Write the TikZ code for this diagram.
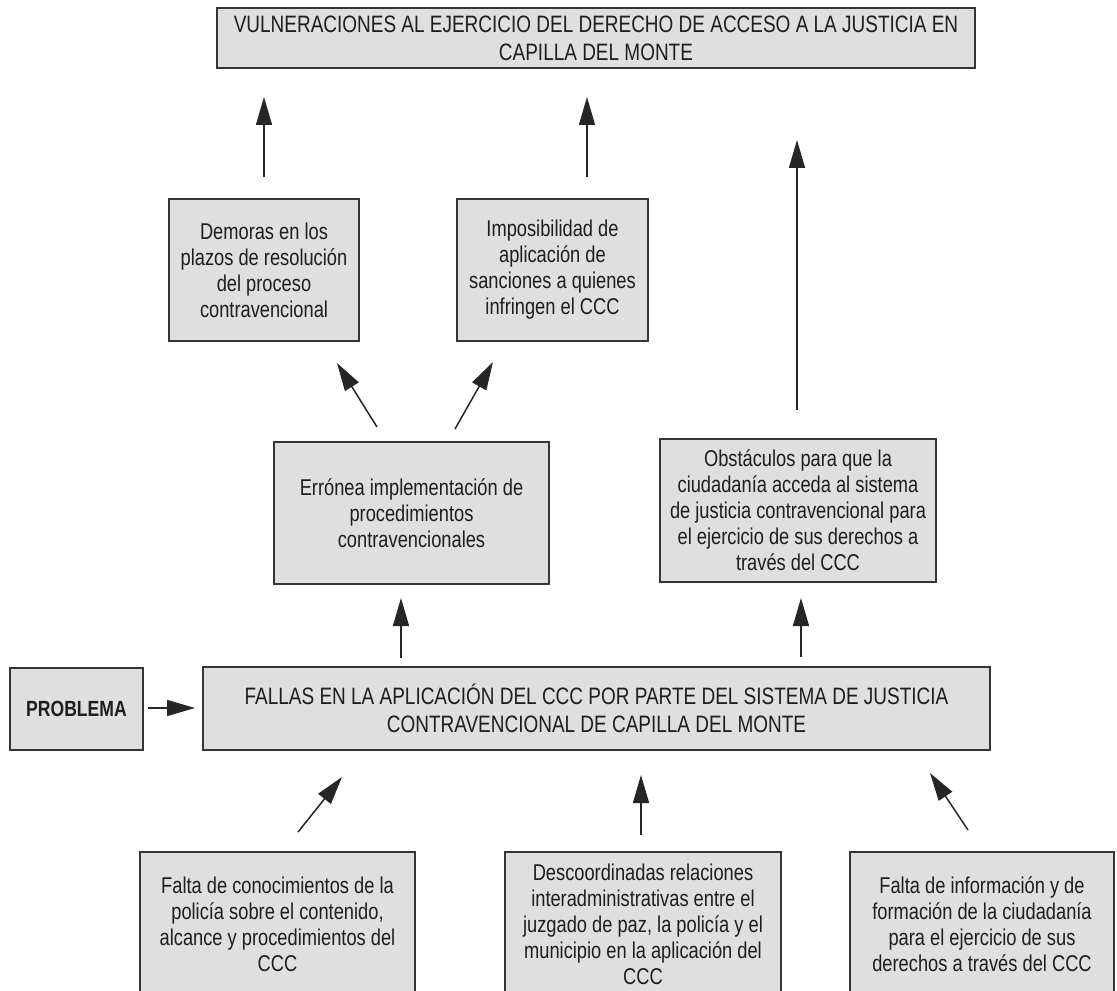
\documentclass[tikz,border=0pt]{standalone}
\usepackage{fontspec}
\setmainfont{Liberation Sans}[FakeStretch=0.8]
\newfontfamily\capsfont{Liberation Sans}[FakeStretch=0.8]
\usetikzlibrary{arrows.meta, positioning}
\definecolor{boxFill}{HTML}{DFDFDF}
\definecolor{boxLine}{HTML}{363636}
\definecolor{inkGrey}{HTML}{1E1E1E}
\tikzset{
  % boxes and arrows as in the original chart
  every picture/.append style = {line width=0.8pt},
  cbox/.style   = {draw=boxLine, fill=boxFill, line width=1.2pt, inner sep=0pt,
                   align=center, text=inkGrey, font=\fontsize{13}{14.8}\selectfont},
  capbox/.style = {cbox, font=\capsfont\fontsize{13.5}{16}\selectfont},
  upar/.style   = {-{Triangle[length=5.6mm, width=3.2mm]}, draw=black!85, line width=0.85pt},
}

\begin{document}
\begin{tikzpicture}[x=0.02cm, y=-0.02cm]
  \useasboundingbox (0,0) rectangle (1117,991);
  \fill[white] (0,0) rectangle (1117,991);
  % effects
  \node[capbox, minimum width=15.16cm, minimum height=1.2cm] (vuln) at (596,38)
    {VULNERACIONES AL EJERCICIO DEL DERECHO DE ACCESO A LA JUSTICIA EN\\CAPILLA DEL MONTE};
  \node[cbox, minimum width=3.8cm, minimum height=2.84cm] (demoras) at (264,270)
    {Demoras en los\\plazos de resolución\\del proceso\\contravencional};
  \node[cbox, minimum width=3.82cm, minimum height=2.84cm] (impos) at (552.5,270)
    {Imposibilidad de\\aplicación de\\sanciones a quienes\\infringen el CCC};
  \node[cbox, minimum width=5.5cm, minimum height=2.84cm] (erronea) at (411.5,513)
    {Errónea implementación de\\procedimientos\\contravencionales};
  \node[cbox, minimum width=5.52cm, minimum height=2.86cm] (obstac) at (798,510.5)
    {Obstáculos para que la\\ciudadanía acceda al sistema\\de justicia contravencional para\\el ejercicio de sus derechos a\\través del CCC};
  % problem
  \node[cbox, minimum width=2.66cm, minimum height=1.64cm, font=\bfseries\fontsize{12.5}{15}\selectfont] (problema) at (76.5,709)
    {PROBLEMA};
  \node[capbox, minimum width=15.74cm, minimum height=1.66cm] (fallas) at (596.5,708.5)
    {FALLAS EN LA APLICACIÓN DEL CCC POR PARTE DEL SISTEMA DE JUSTICIA\\CONTRAVENCIONAL DE CAPILLA DEL MONTE};
  % causes
  \node[cbox, minimum width=5.5cm, minimum height=2.88cm] (falta) at (277.5,924)
    {Falta de conocimientos de la\\policía sobre el contenido,\\alcance y procedimientos del\\CCC};
  \node[cbox, minimum width=5.52cm, minimum height=2.88cm] (descoord) at (643,924)
    {Descoordinadas relaciones\\interadministrativas entre el\\juzgado de paz, la policía y el\\municipio en la aplicación del\\CCC};
  \node[cbox, minimum width=5.28cm, minimum height=2.88cm] (faltainfo) at (982,924)
    {Falta de información y de\\formación de la ciudadanía\\para el ejercicio de sus\\derechos a través del CCC};
  % arrow ends
  \coordinate (a1s) at (264,177);  \coordinate (a1e) at (264,97);
  \coordinate (a2s) at (587,177);  \coordinate (a2e) at (587,97);
  \coordinate (a3s) at (797,410);  \coordinate (a3e) at (797,140);
  \coordinate (d1s) at (377,427);  \coordinate (d1e) at (337,363);
  \coordinate (d2s) at (455,429);  \coordinate (d2e) at (493,362);
  \coordinate (e1s) at (401,658);  \coordinate (e1e) at (401,598);
  \coordinate (o1s) at (801,657);  \coordinate (o1e) at (801,598);
  \coordinate (p1s) at (148,708);  \coordinate (p1e) at (195,708);
  \coordinate (b1s) at (298,832);  \coordinate (b1e) at (342,777);
  \coordinate (b2s) at (641,835);  \coordinate (b2e) at (641,775);
  \coordinate (b3s) at (968,830);  \coordinate (b3e) at (930,773);
  % arrows
  \foreach \a in {a1,a2,a3,d1,d2,e1,o1,p1,b1,b2,b3}
    \draw[upar] (\a s) -- (\a e);
\end{tikzpicture}
\end{document}
